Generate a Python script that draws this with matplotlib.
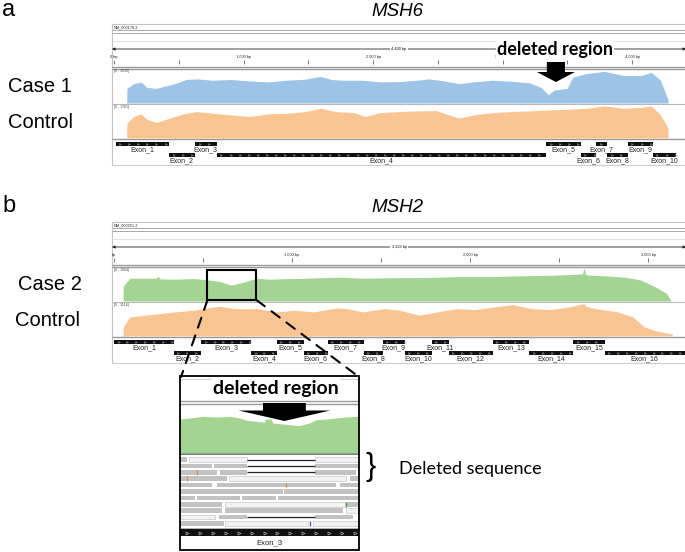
import matplotlib
matplotlib.use("Agg")
import matplotlib.pyplot as plt
import numpy as np
from matplotlib.patches import Rectangle, Polygon, ConnectionPatch
from matplotlib.transforms import blended_transform_factory

plt.rcParams["font.family"] = ["Liberation Sans", "DejaVu Sans"]

W, H = 685, 552
PANEL_X0, PANEL_X1 = 112, 686

# ---------------- panel a : MSH6 (positions in bp, coverage as fraction of track max) ----
msh6_view = (-15, 4415)
msh6_ticks = [0, 1000, 2000, 3000, 4000]
msh6_tick_labels = ["0 bp", "1,000 bp", "2,000 bp", "3,000 bp", "4,000 bp"]

msh6_case_pos = [99, 100, 152, 209, 253, 325, 469, 555, 642, 757,
                 901, 1046, 1190, 1334, 1478, 1594, 1680, 1767, 1911, 2055,
                 2199, 2343, 2430, 2545, 2661, 2776, 2920, 3064, 3209, 3295,
                 3353, 3396, 3497, 3540, 3641, 3785, 3930, 4074, 4146, 4218,
                 4276, 4277]
msh6_case_cov = [0, .43, .57, .62, .46, .43, .57, .69, .71, .67,
                 .69, .65, .62, .67, .70, .78, .69, .67, .67, .62,
                 .63, .67, .71, .65, .57, .62, .67, .64, .59, .46,
                 .24, .38, .43, .76, .86, .93, .81, .81, .90, .67,
                 .10, 0]
msh6_ctrl_pos = [99, 100, 152, 209, 253, 325, 469, 555, 642, 757,
                 901, 1046, 1190, 1334, 1478, 1594, 1709, 1853, 1940, 2055,
                 2199, 2343, 2488, 2661, 2776, 2920, 3064, 3209, 3353, 3497,
                 3641, 3785, 3930, 4074, 4146, 4218, 4276, 4277]
msh6_ctrl_cov = [0, .45, .65, .73, .57, .47, .65, .75, .80, .75,
                 .70, .65, .73, .75, .80, .90, .80, .77, .65, .77,
                 .80, .82, .83, .60, .70, .77, .80, .82, .85, .87,
                 .90, .97, .90, .93, .97, .70, .30, 0]

msh6_exon_names = ["Exon_%d" % i for i in range(1, 11)]
msh6_exon_start = [13, 426, 627, 795, 3338, 3604, 3722, 3808, 3967, 4160]
msh6_exon_end = [426, 622, 792, 3338, 3604, 3719, 3808, 3967, 4160, 4339]
msh6_exon_row = [0, 1, 0, 1, 0, 1, 0, 1, 0, 1]
msh6_deletion_bp = 3411

# ---------------- panel b : MSH2 ----------------
msh2_view = (-11, 3212)
msh2_ticks = [0, 1000, 2000, 3000]
msh2_tick_labels = ["bp", "1,000 bp", "2,000 bp", "3,000 bp"]

msh2_case_pos = [51, 52, 90, 237, 248, 258, 342, 448, 528, 595,
                 658, 722, 800, 869, 975, 1080, 1185, 1291, 1396, 1501,
                 1607, 1712, 1817, 1923, 2028, 2133, 2239, 2344, 2449, 2555,
                 2630, 2639, 2648, 2660, 2765, 2871, 2955, 3039, 3103, 3128]
msh2_case_cov = [0, .45, .69, .69, .76, .67, .66, .68, .64, .59,
                 .48, .56, .69, .66, .68, .69, .71, .72, .69, .70,
                 .71, .71, .72, .74, .74, .74, .76, .77, .78, .80,
                 .82, 1.0, .81, .79, .76, .72, .64, .43, .23, 0]
msh2_ctrl_pos = [51, 52, 90, 174, 342, 448, 532, 595, 680, 806,
                 911, 1017, 1122, 1248, 1312, 1396, 1522, 1607, 1712, 1817,
                 1923, 2028, 2133, 2239, 2344, 2449, 2555, 2639, 2650, 2702,
                 2829, 2913, 2976, 3039, 3134, 3135]
msh2_ctrl_cov = [0, .28, .58, .63, .73, .78, .86, .90, .83, .83,
                 .73, .78, .73, .85, .83, .73, .83, .78, .63, .73,
                 .83, .80, .88, .95, .83, .80, .88, .98, .90, .83,
                 .73, .58, .28, .16, .06, 0]

msh2_exon_names = ["Exon_%d" % i for i in range(1, 17)]
msh2_exon_start = [1, 336, 490, 770, 915, 1065, 1200, 1402, 1508, 1634, 1786, 1880, 2127, 2333, 2580, 2755]
msh2_exon_end = [336, 490, 770, 915, 1065, 1200, 1402, 1508, 1634, 1786, 1880, 2127, 2333, 2580, 2755, 3204]
msh2_exon_row = [0, 1] * 8
msh2_zoom_box = (525, 800)

# ---------------- inset : zoom on MSH2 exon 3 ----------------
inset_view = (560, 740)
inset_cov_pos = [560, 570, 583, 597, 610, 620, 627, 637, 645, 646, 652,
                 653, 660, 670, 680, 690, 697, 707, 717, 727, 740]
inset_cov = [.85, .875, .917, .90, .917, .875, .817, .79, .767, .85, .85,
             .75, .733, .708, .683, .75, .833, .85, .875, .90, .917]

# reads: row, start, end, kind (g = grey, l = light / low mapq)
read_row = [0, 0, 0, 1, 1, 1, 2, 2, 2, 3, 3, 3, 4, 4, 4, 5, 5,
            6, 6, 6, 6, 7, 7, 7, 8, 8, 8, 9, 9, 9, 10, 10, 10]
read_start = [560, 569, 696, 560, 594, 696, 560, 600, 696, 560, 609, 731, 560, 597, 721, 560, 665,
              560, 577, 622, 659, 560, 605, 727, 560, 605, 727, 560, 599, 696, 560, 605, 694]
read_end = [567, 627, 740, 592, 627, 740, 597, 627, 737, 607, 727, 740, 592, 717, 740, 664, 740,
            575, 620, 657, 740, 602, 726, 740, 602, 724, 740, 595, 627, 734, 604, 689, 740]
read_kind = ["g", "l", "l", "g", "g", "g", "g", "g", "g", "g", "l", "g", "g", "g", "g", "g", "g",
             "g", "g", "g", "g", "g", "l", "g", "g", "g", "l", "l", "g", "g", "g", "l", "l"]
deletion_rows = [0, 1, 2, 9]
deletion_span = (627, 696)
mismatch_row = [2, 3, 4, 7, 10]
mismatch_pos = [577, 567, 667, 727, 691]
mismatch_color = ["#d98b3a", "#d98b3a", "#d98b3a", "#3aa53a", "#5a3fa0"]

BLUE, ORANGE, GREEN = "#9dc3e6", "#f8c592", "#a3d492"
FRAME = "#c4c4c4"

fig = plt.figure(figsize=(W / 100, H / 100), dpi=100)


def px_axes(x0, y0, x1, y1):
    ax = fig.add_axes([x0 / W, 1 - y1 / H, (x1 - x0) / W, (y1 - y0) / H])
    ax.set_axis_off()
    return ax


base = px_axes(0, 0, W, H)
base.set_xlim(0, W)
base.set_ylim(H, 0)


def hline(y, x0=PANEL_X0, x1=PANEL_X1, color=FRAME, lw=0.7):
    base.plot([x0, x1], [y, y], color=color, lw=lw, solid_capstyle="butt")


def igv_panel(top, gene_id, view, length_label, ticks, tick_labels, tracks,
              names, starts, ends, rows, chevron_step):
    x0, x1 = PANEL_X0, PANEL_X1
    base.add_patch(Rectangle((x0, top), x1 - x0, 141, fill=False, ec=FRAME, lw=0.8))
    base.text(x0 + 2, top + 3, gene_id, fontsize=2.8, va="center", color="#222")
    hline(top + 5.5, color="#a8a8a8")
    hline(top + 9, color="#a8a8a8")
    hline(top + 17, color="#e0e0e0")

    # ruler
    ru = px_axes(x0, top + 20, x1, top + 42)
    ru.set_xlim(*view)
    ru.set_ylim(top + 42, top + 20)
    ru.annotate("", xy=(view[0], top + 25), xytext=(view[1], top + 25),
                arrowprops=dict(arrowstyle="<|-|>", color="#222", lw=0.6,
                                mutation_scale=4, shrinkA=0, shrinkB=0))
    ru.text(sum(view) / 2, top + 25, length_label, fontsize=2.8, ha="center",
            va="center", bbox=dict(fc="white", ec="none", pad=1.2))
    minor = [t + 500 for t in ticks if t + 500 < view[1]]
    ru.vlines(ticks + minor, top + 36, top + 39.5, color="#444", lw=0.5)
    for t, lab in zip(ticks, tick_labels):
        ru.text(t, top + 33, lab, fontsize=2.8, ha="center", va="center", color="#222")
    hline(top + 43, color="#9a9a9a", lw=1.0)
    hline(top + 45.3, color="#9a9a9a", lw=1.0)

    track_axes = []
    for pos, cov, color, rng, y0, y1 in tracks:
        ax = px_axes(x0, top + y0, x1, top + y1)
        ax.set_xlim(*view)
        ax.set_ylim(0, 1)
        ax.fill_between(pos, cov, color=color, lw=0)
        base.text(x0 + 2, top + y0 + 2, rng, fontsize=2.5, va="center", color="#444")
        track_axes.append(ax)
    hline(top + 80, color="#b8b8b8", lw=0.8)
    hline(top + 114.8, color="#9a9a9a", lw=1.0)

    ex = px_axes(x0, top + 116, x1, top + 142)
    ex.set_xlim(*view)
    ex.set_ylim(top + 142, top + 116)
    bar_y = [top + 119.5, top + 131.2]
    lab_y = [top + 125.3, top + 137.2]
    for n, s, e, r in zip(names, starts, ends, rows):
        ex.barh(bar_y[r], e - s, left=s, height=4, color="#111")
        xs = np.arange(s + chevron_step / 2, e, chevron_step)
        ex.plot(xs, [bar_y[r]] * len(xs), ls="none", marker=">", ms=1.3,
                mfc="none", mec="#9a9a9a", mew=0.4)
        ex.text((s + e) / 2, lab_y[r], n, fontsize=5, ha="center", va="center", color="#222")
    hline(top + 141, color="#d0d0d0")
    return track_axes


ax_a = igv_panel(24, "NM_000179.2", msh6_view, "4,430 bp", msh6_ticks, msh6_tick_labels,
                 [(msh6_case_pos, msh6_case_cov, BLUE, "[0 - 3036]", 45, 79),
                  (msh6_ctrl_pos, msh6_ctrl_cov, ORANGE, "[0 - 1761]", 81, 114)],
                 msh6_exon_names, msh6_exon_start, msh6_exon_end, msh6_exon_row, 70)

ax_b = igv_panel(222, "NM_000251.2", msh2_view, "3,223 bp", msh2_ticks, msh2_tick_labels,
                 [(msh2_case_pos, msh2_case_cov, GREEN, "[0 - 1804]", 46, 79),
                  (msh2_ctrl_pos, msh2_ctrl_cov, ORANGE, "[0 - 1114]", 81, 114)],
                 msh2_exon_names, msh2_exon_start, msh2_exon_end, msh2_exon_row, 50)

# zoom box on the MSH2 case track
ax_b[0].add_patch(Rectangle((msh2_zoom_box[0], 0.03), msh2_zoom_box[1] - msh2_zoom_box[0], 0.91,
                            fill=False, ec="black", lw=1.5, clip_on=False))

# ---------------- inset ----------------
IX0, IY0, IX1, IY1 = 180, 376, 359, 550
base.add_patch(Rectangle((IX0, IY0), IX1 - IX0, IY1 - IY0, fc="white", ec="none"))
hline(IY0 + 3, IX0, IX1, color="#cfcfcf", lw=0.7)
hline(401, IX0, IX1, color="#9a9a9a", lw=1.0)
hline(403.6, IX0, IX1, color="#9a9a9a", lw=1.0)

ic = px_axes(IX0, 413, IX1, 453)
ic.set_xlim(*inset_view)
ic.set_ylim(0, 1)
ic.fill_between(inset_cov_pos, inset_cov, color=GREEN, lw=0)
hline(454, IX0, IX1, color="#555", lw=1.1)

rd = px_axes(IX0, 456.5, IX1, 526.5)
rd.set_xlim(*inset_view)
rd.set_ylim(10.5, -0.5)
for r, s, e, k in zip(read_row, read_start, read_end, read_kind):
    if k == "g":
        rd.barh(r, e - s, left=s, height=0.72, color="#c2c2c2", lw=0)
    else:
        rd.barh(r, e - s, left=s, height=0.72, color="#f2f2f2", ec="#c8c8c8", lw=0.5)
rd.hlines(deletion_rows, deletion_span[0], deletion_span[1], color="#222", lw=0.9)
rd.vlines(mismatch_pos, np.array(mismatch_row) - 0.36, np.array(mismatch_row) + 0.36,
          colors=mismatch_color, lw=0.9)
hline(527.8, IX0, IX1, color="#b0b0b0", lw=0.7)

iex = px_axes(IX0, 529, IX1, 536)
iex.set_xlim(*inset_view)
iex.set_ylim(0, 1)
iex.barh(0.5, inset_view[1] - inset_view[0], left=inset_view[0], height=1, color="#111")
xs = np.arange(inset_view[0] + 7, inset_view[1], 13)
iex.plot(xs, [0.5] * len(xs), ls="none", marker=">", ms=2.2, mfc="none", mec="#aaaaaa", mew=0.5)
base.text((IX0 + IX1) / 2, 542.5, "Exon_3", fontsize=5.5, ha="center", va="center", color="#222")

# ---------------- overlay: annotations ----------------
top = px_axes(0, 0, W, H)
top.set_xlim(0, W)
top.set_ylim(H, 0)
top.add_patch(Rectangle((IX0, IY0), IX1 - IX0, IY1 - IY0, fill=False, ec="black", lw=1.3))

tr_a = blended_transform_factory(ax_a[0].transData, top.transData)
c = msh6_deletion_bp
top.add_patch(Polygon([(c - 70, 62), (c + 70, 62), (c + 70, 72), (c + 147, 72),
                       (c, 82), (c - 147, 72), (c - 70, 72)],
                      closed=True, fc="black", ec="none", transform=tr_a))
top.text(555, 55, "deleted region", fontsize=13, fontweight="bold", family="Lato",
         ha="center", va="baseline", bbox=dict(fc="white", ec="none", pad=0.5))

tr_i = blended_transform_factory(ic.transData, top.transData)
ci = 665
top.add_patch(Polygon([(ci - 21.5, 403), (ci + 21.5, 403), (ci + 21.5, 410.5), (ci + 46, 410.5),
                       (ci, 421), (ci - 46, 410.5), (ci - 21.5, 410.5)],
                      closed=True, fc="black", ec="none", transform=tr_i))
top.text(276, 394, "deleted region", fontsize=14, fontweight="bold", family="Lato",
         ha="center", va="baseline", bbox=dict(fc="white", ec="none", pad=0.5))

for bx, cx in [(msh2_zoom_box[0], IX0 + 1), (msh2_zoom_box[1], IX1)]:
    con = ConnectionPatch(xyA=(bx, 0.03), coordsA=ax_b[0].transData,
                          xyB=(cx, IY0 + 1), coordsB=top.transData,
                          color="black", lw=1.5, ls=(0, (5, 4)))
    fig.add_artist(con)

top.text(371, 467.5, "}", fontsize=22, ha="center", va="center")
top.text(399, 469, "Deleted sequence", fontsize=13, family="Lato", ha="left", va="center")

# labels
top.text(2, 10, "a", fontsize=17, va="center")
top.text(2, 206, "b", fontsize=17, va="center")
top.text(397, 11, "MSH6", fontsize=13.5, style="italic", ha="center", va="center")
top.text(397, 207, "MSH2", fontsize=13.5, style="italic", ha="center", va="center")
top.text(8, 86, "Case 1", fontsize=14.5, va="center")
top.text(8, 122, "Control", fontsize=14.5, va="center")
top.text(18, 284.5, "Case 2", fontsize=14.5, va="center")
top.text(15, 320, "Control", fontsize=14.5, va="center")

fig.savefig("out.png", dpi=100)
